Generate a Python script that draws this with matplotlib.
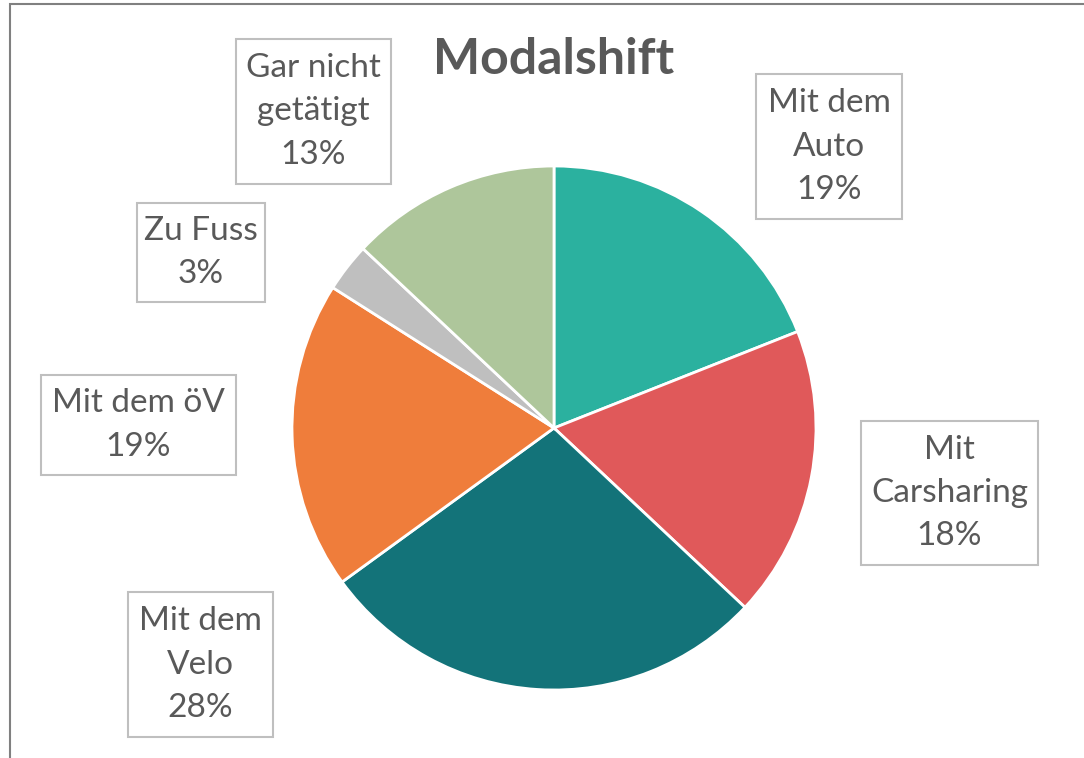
import matplotlib.pyplot as plt
from matplotlib.patches import Rectangle

labels = ['Mit dem\nAuto', 'Mit\nCarsharing', 'Mit dem\nVelo', 'Mit dem öV', 'Zu Fuss', 'Gar nicht\ngetätigt']
shares = [19, 18, 28, 19, 3, 13]
colors = ['#2BB19F', '#E0595A', '#137379', '#EF7D3B', '#BFBFBF', '#AEC69B']

# label boxes in pixels: left, top, right, bottom
label_box = [(756, 74, 902, 219), (861, 421, 1038, 565), (128, 592, 273, 737),
             (41, 375, 236, 475), (137, 203, 265, 302), (236, 39, 391, 184)]

W, H = 1084, 758
plt.rcParams['font.family'] = ['Lato', 'DejaVu Sans']
fig = plt.figure(figsize=(W / 100, H / 100), dpi=100)

# chart frame (cropped at right and bottom)
fig.patches.append(Rectangle((9.5 / W, -0.1), 1.2, (H - 4) / H + 0.1, transform=fig.transFigure,
                             fill=False, edgecolor='#808080', linewidth=1.5))

cx, cy, r = 554, 428, 262
ax = fig.add_axes([(cx - r) / W, (H - cy - r) / H, 2 * r / W, 2 * r / H])
ax.pie(shares, colors=colors, startangle=90, counterclock=False, radius=1,
       wedgeprops=dict(edgecolor='white', linewidth=2))
ax.set_xlim(-1, 1)
ax.set_ylim(-1, 1)
ax.set_aspect('equal')
ax.axis('off')

for lab, val, (x0, y0, x1, y1) in zip(labels, shares, label_box):
    fig.patches.append(Rectangle((x0 / W, 1 - y1 / H), (x1 - x0) / W, (y1 - y0) / H,
                                 transform=fig.transFigure, facecolor='white',
                                 edgecolor='#BFBFBF', linewidth=1.5))
    fig.text((x0 + x1) / 2 / W, 1 - (y0 + y1) / 2 / H, f'{lab}\n{val}%', ha='center', va='center',
             fontsize=24, color='#595959', linespacing=1.55)

fig.text(554 / W, 1 - 60 / H, 'Modalshift', ha='center', va='center',
         fontsize=36, fontweight='bold', color='#595959')

fig.savefig('out.png', dpi=100)
